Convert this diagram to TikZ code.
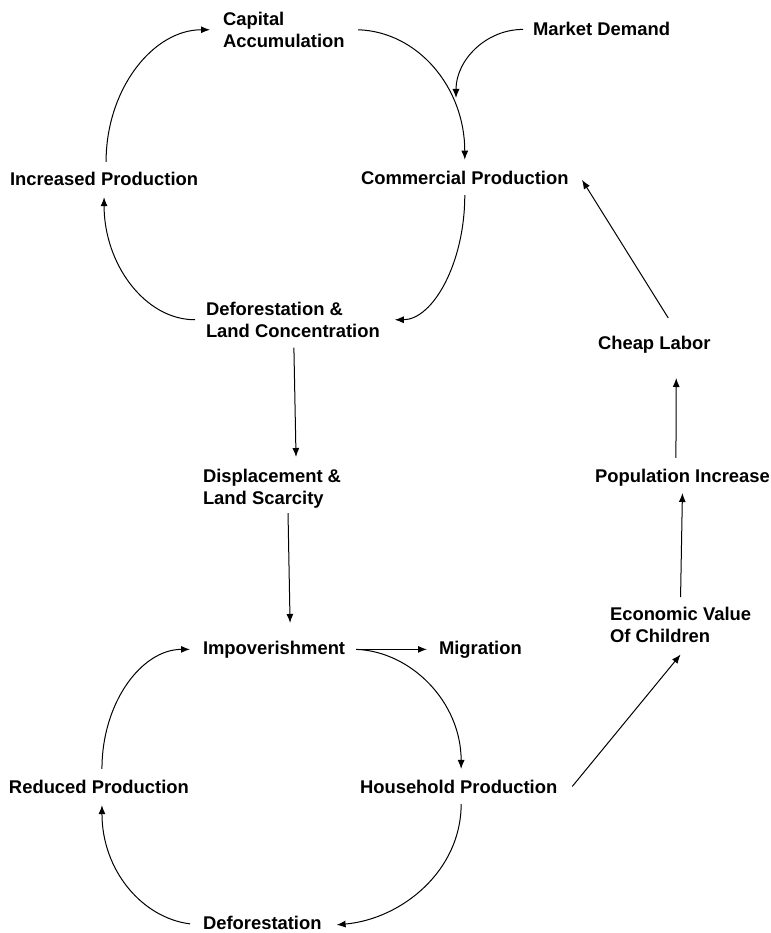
\documentclass[tikz,border=0pt]{standalone}
\usepackage{fontspec}
\setmainfont{Liberation Sans}
\usetikzlibrary{arrows.meta,calc}
\begin{document}
\begin{tikzpicture}[x=1pt,y=1pt,
  lbl/.style={inner sep=0pt, outer sep=0pt, font=\fontsize{18.4}{22}\selectfont\bfseries},
  lbltwo/.style={lbl, align=left},
  con/.style={line width=1pt, draw=black, -{Latex[length=9pt,width=7pt]}}]
\fill[white] (0,0) rectangle (770,-933);
\useasboundingbox (0,0) rectangle (770,-933);
\node[lbltwo, anchor=north west] (cap) at (223,-12) {Capital\\Accumulation};
\node[lbl, anchor=base west] (md) at (533,-36) {Market Demand};
\node[lbl, anchor=base west] (ip) at (10,-186) {Increased Production};
\node[lbl, anchor=base west] (cp) at (361,-185) {Commercial Production};
\node[lbltwo, anchor=north west] (dlc) at (206,-302) {Deforestation \&\\Land Concentration};
\node[lbl, anchor=base west] (cl) at (598,-349) {Cheap Labor};
\node[lbltwo, anchor=north west] (dls) at (203,-469) {Displacement \&\\Land Scarcity};
\node[lbl, anchor=base west] (pi) at (595,-482) {Population Increase};
\node[lbltwo, anchor=north west] (evc) at (610,-607) {Economic Value\\Of Children};
\node[lbl, anchor=base west] (imp) at (203,-654) {Impoverishment};
\node[lbl, anchor=base west] (mig) at (439,-654) {Migration};
\node[lbl, anchor=base west] (rp) at (9,-793) {Reduced Production};
\node[lbl, anchor=base west] (hp) at (360,-793) {Household Production};
\node[lbl, anchor=base west] (def) at (203,-929.5) {Deforestation};
\coordinate (mdtip) at (456,-98);
% upper cycle
\draw[con] ([xshift=13.5pt]cap.east) .. controls +(60,-2) and +(0,72) .. ([yshift=12pt]cp.north);
\draw[con] ([xshift=-10pt]md.west) .. controls +(-37,0) and +(0,38) .. (mdtip);
\draw[con] ([yshift=-10pt]cp.south) .. controls +(0,-68) and +(38,0) .. ([xshift=15pt]dlc.east);
\draw[con] ([xshift=-11pt]dlc.west) .. controls +(-50,0) and +(0,-67) .. ([yshift=-11pt]ip.south);
\draw[con] ([xshift=2pt,yshift=10.7pt]ip.north) .. controls +(0,73) and +(-57,0) .. ([xshift=-13pt]cap.west);
% middle chain
\draw[con] ([xshift=1pt,yshift=-10pt]dlc.south) -- ([xshift=24pt,yshift=12pt]dls.north);
\draw[con] ([xshift=16pt,yshift=-5pt]dls.south) -- ([xshift=16pt,yshift=17.7pt]imp.north);
% lower cycle
\draw[con] ([xshift=3pt,yshift=10.7pt]rp.north) .. controls +(0,67) and +(-48,0) .. ([xshift=-13pt,yshift=2pt]imp.mid west);
\draw[con] ([xshift=11pt,yshift=2pt]imp.mid east) -- ([xshift=-12pt,yshift=2pt]mig.mid west);
\draw[con] ([xshift=11pt,yshift=2pt]imp.mid east) .. controls +(55,-2) and +(0,67) .. ([xshift=2.5pt,yshift=10.7pt]hp.north);
\draw[con] ([xshift=2.5pt,yshift=-11pt]hp.south) .. controls +(0,-66) and +(66,6) .. ([xshift=15pt,yshift=2pt]def.mid east);
\draw[con] ([xshift=-13pt,yshift=3pt]def.mid west) .. controls +(-48,6) and +(0,-65) .. ([xshift=3pt,yshift=-12pt]rp.south);
% right column
\draw[con] ([xshift=15pt]hp.east) -- ([yshift=-12pt]evc.south);
\draw[con] ([yshift=10pt]evc.north) -- ([yshift=-11pt]pi.base);
\draw[con] ([xshift=-6.5pt,yshift=10.7pt]pi.north) -- ([xshift=22pt,yshift=-29pt]cl.base);
\draw[con] ([xshift=14pt,yshift=17.7pt]cl.north) -- ([xshift=13.5pt,yshift=-1.5pt]cp.east);
\end{tikzpicture}
\end{document}
